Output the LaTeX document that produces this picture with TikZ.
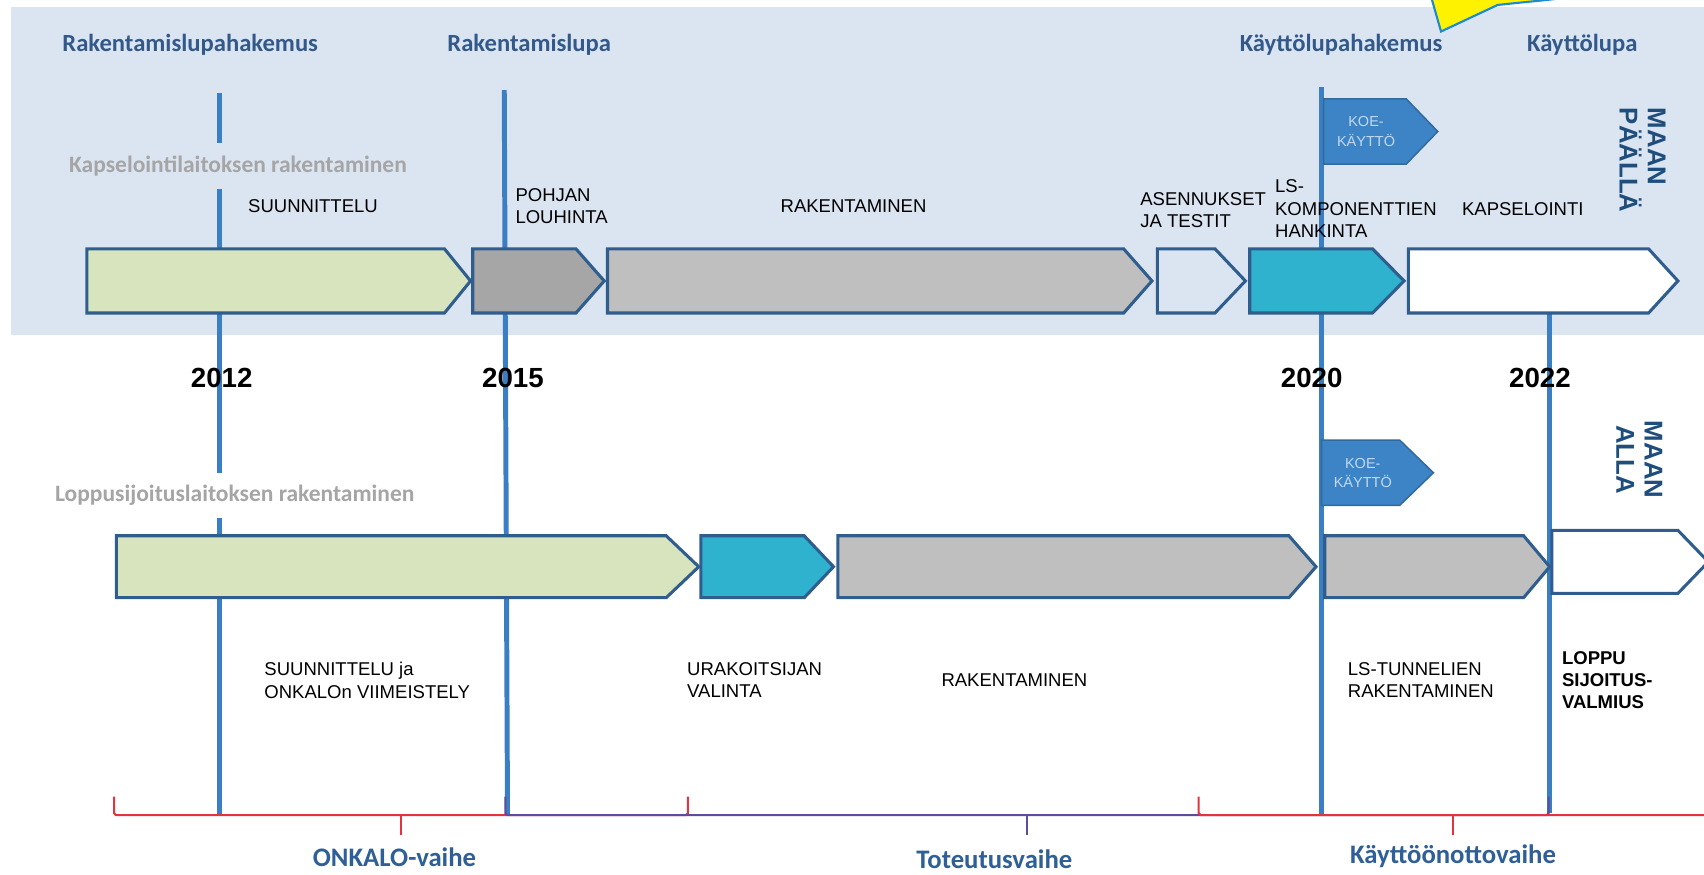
\documentclass[tikz,border=0pt]{standalone}
\usepackage{fontspec}
\setmainfont{Liberation Sans}
\newfontfamily\calibfont{Carlito}
\definecolor{bgblue}{HTML}{DBE5F1}
\definecolor{framecol}{HTML}{2E5D8E}
\definecolor{milestone}{HTML}{3A7EC3}
\definecolor{headblue}{HTML}{33598A}
\definecolor{phaseblue}{HTML}{2E5F96}
\definecolor{lgreen}{HTML}{D7E4BD}
\definecolor{dgray}{HTML}{A6A6A6}
\definecolor{lgray}{HTML}{BFBFBF}
\definecolor{lsteal}{HTML}{2EB2CE}
\definecolor{koeblue}{HTML}{3D84C6}
\definecolor{koetext}{HTML}{C3D8EE}
\definecolor{bracered}{HTML}{E2343F}
\definecolor{bracepurple}{HTML}{5E4B9C}
\definecolor{calloutblue}{HTML}{1A8AD4}
\definecolor{grouptext}{HTML}{A5A5A5}
\definecolor{maanblue}{HTML}{1F4E7D}

\begin{document}
\begin{tikzpicture}[x=0.02cm,y=-0.02cm]
\tikzstyle{bar}=[draw=framecol,line width=1.6pt,line join=miter]%
\tikzstyle{mile}=[draw=milestone,line width=2.6pt]%
\tikzstyle{task}=[font=\fontsize{9.7}{11.6}\selectfont,align=left,anchor=west,inner sep=0pt]%
\tikzstyle{headlabel}=[font=\calibfont\bfseries\fontsize{12.9}{14}\selectfont,text=headblue]%
\tikzstyle{grouplabel}=[font=\calibfont\bfseries\fontsize{12.3}{14}\selectfont,text=grouptext,minimum height=0.84cm,inner xsep=2pt]%
\tikzstyle{yearlabel}=[font=\bfseries\fontsize{14.5}{16}\selectfont]%
\tikzstyle{maan}=[font=\bfseries\fontsize{13.5}{14.8}\selectfont,text=maanblue,rotate=-90,anchor=north west,inner sep=0pt]%
\tikzstyle{koeflag}=[fill=koeblue,draw=koeblue!80!black,line width=0.8pt]%
\tikzstyle{koetxt}=[font=\fontsize{7.6}{10}\selectfont,text=koetext,align=center]%
\tikzstyle{phasebrace}=[line width=1.1pt,rounded corners=1pt]%
\tikzstyle{phaselabel}=[font=\calibfont\bfseries\fontsize{14}{16}\selectfont,text=phaseblue,inner sep=1pt]%
\useasboundingbox (0,0) rectangle (1568,805);
\clip (0,0) rectangle (1568,805);
% background
\fill[bgblue] (10,6.4) rectangle (1568,308);
% callout
\draw[fill=yellow,draw=calloutblue,line width=1.1pt] (1316,-6) -- (1326,29) -- (1378,4.6) .. controls (1410,1) and (1440,-1) .. (1466,-6) -- cycle;
% milestones
\draw[mile] (202,86) -- (202,750);
\draw[mile] (464,83) -- (467,750);
\draw[mile] (1216,80) -- (1216,750);
\draw[mile] (1426,260) -- (1426,748);
\node[headlabel] (lupahak) at (175,41) {Rakentamislupahakemus};
\node[headlabel] (lupa) at (487,41) {Rakentamislupa};
\node[headlabel] (kayttohak) at (1234,41) {Käyttölupahakemus};
\node[headlabel] (kayttolupa) at (1456,41) {Käyttölupa};
\node[grouplabel,fill=bgblue] (kapsel) at (219,153) {Kapselointilaitoksen rakentaminen};
\node[grouplabel,fill=white] (loppusij) at (216,456) {Loppusijoituslaitoksen rakentaminen};
% koe-kaytto
\draw[koeflag] (1218,91) -- (1294,91) -- (1323,121) -- (1294,151) -- (1218,151) -- cycle;
\node[koetxt] (koe1) at (1257,121) {KOE-\\KÄYTTÖ};
\draw[koeflag] (1216,405) -- (1288,405) -- (1319,435) -- (1288,465) -- (1216,465) -- cycle;
\node[koetxt] (koe2) at (1254,435) {KOE-\\KÄYTTÖ};
% bars
\foreach \a/\b/\c/\col in {80/409/433/lgreen,435/530/556/dgray,559/1034/1060/lgray,1065/1118/1146/bgblue,1150/1263/1292/lsteal,1296/1517/1544/white}
\draw[bar,fill=\col] (\a,229) -- (\b,229) -- (\c,258.5) -- (\b,288) -- (\a,288) -- cycle;
\foreach \a/\b/\c/\col in {107/613/643/lgreen,645/740/767/lsteal,771/1186/1211/lgray,1219/1402/1426/lgray}
\draw[bar,fill=\col] (\a,493) -- (\b,493) -- (\c,521.5) -- (\b,550) -- (\a,550) -- cycle;
\draw[bar,fill=white] (1428,488) -- (1544,488) -- (1572,517) -- (1544,546) -- (1428,546) -- cycle;
\node[task] (suunn) at (228,190) {SUUNNITTELU};
\node[task] (pohjan) at (474,190) {POHJAN\\LOUHINTA};
\node[task] (rak) at (718,190) {RAKENTAMINEN};
\node[task] (asenn) at (1049,193) {ASENNUKSET\\JA TESTIT};
\node[task] (lskomp) at (1173,192) {LS-\\KOMPONENTTIEN\\HANKINTA};
\node[task] (kapseloint) at (1345,192) {KAPSELOINTI};
\node[maan,align=left] (paalla) at (1533,99) {MAAN\\PÄÄLLÄ};
\node[maan,align=center] (alla) at (1530,387) {MAAN\\ALLA};
% years
\node[yearlabel] (y2012) at (204,348) {2012};
\node[yearlabel] (y2015) at (472,348) {2015};
\node[yearlabel] (y2020) at (1207,348) {2020};
\node[yearlabel] (y2022) at (1417,348) {2022};
\node[task] (suunnb) at (243,626) {SUUNNITTELU ja\\ONKALOn VIIMEISTELY};
\node[task] (urak) at (632,626) {URAKOITSIJAN\\VALINTA};
\node[task] (rakb) at (866,626) {RAKENTAMINEN};
\node[task] (lstun) at (1240,626) {LS-TUNNELIEN\\RAKENTAMINEN};
\node[task,font=\bfseries\fontsize{9.7}{11.6}\selectfont] (loppu) at (1437,626) {LOPPU\\SIJOITUS-\\VALMIUS};
% phases
\draw[phasebrace,bracered] (105,733) -- (105,750) -- (633,750) -- (633,733);
\draw[phasebrace,bracered] (369,750) -- (369,768);
\draw[phasebrace,bracepurple] (465,733) -- (465,750) -- (1425,750) -- (1425,733);
\draw[phasebrace,bracepurple] (945,750) -- (945,768);
\draw[phasebrace,bracered] (1103,733) -- (1103,750) -- (1575,750) -- (1575,733);
\draw[phasebrace,bracered] (1337,750) -- (1337,768);
\node[phaselabel] (onkalo) at (363,789) {ONKALO-vaihe};
\node[phaselabel] (toteutus) at (915,791) {Toteutusvaihe};
\node[phaselabel] (kaytto) at (1337,788) {Käyttöönottovaihe};
\end{tikzpicture}
\end{document}
